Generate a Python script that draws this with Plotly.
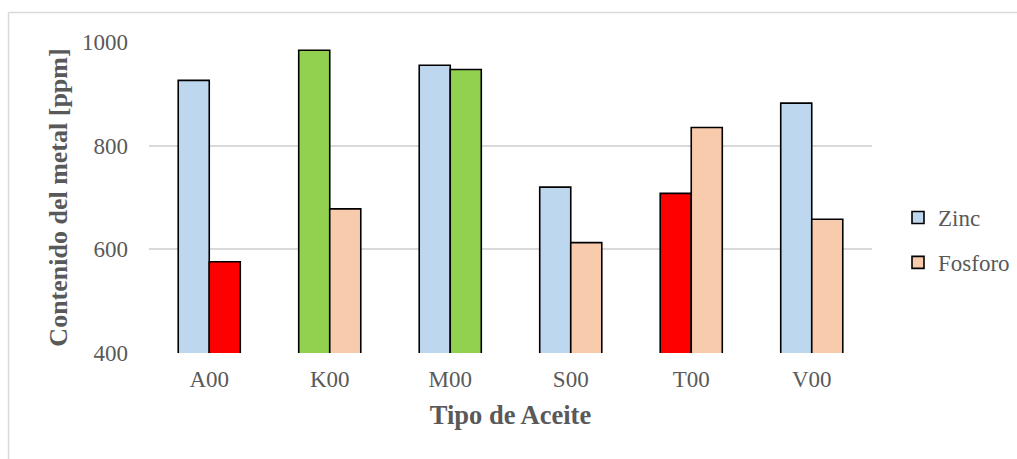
import plotly.graph_objects as go

# Oil types and metal content (ppm)
categories = ["A00", "K00", "M00", "S00", "T00", "V00"]
zinc = [926, 984, 955, 720, 708, 882]
fosforo = [576, 678, 947, 613, 835, 658]

# Per-bar highlight colours
zinc_colors = ["#BDD7EE", "#92D050", "#BDD7EE", "#BDD7EE", "#FF0000", "#BDD7EE"]
fosforo_colors = ["#FF0000", "#F8CBAD", "#92D050", "#F8CBAD", "#F8CBAD", "#F8CBAD"]

FONT = "Liberation Serif, Times New Roman, serif"
GRAY = "#595959"
OUTLINE = dict(color="black", width=1.6)

fig = go.Figure()
fig.add_trace(go.Bar(
    x=categories, y=zinc, name="Zinc", offsetgroup="zinc", showlegend=False,
    marker=dict(color=zinc_colors, line=OUTLINE),
))
fig.add_trace(go.Bar(
    x=categories, y=fosforo, name="Fosforo", offsetgroup="fosforo", showlegend=False,
    marker=dict(color=fosforo_colors, line=OUTLINE),
))
# Legend entries with the base series colours
fig.add_trace(go.Bar(
    x=[categories[0]], y=[None], name="Zinc", offsetgroup="zinc", legendgroup="zinc",
    marker=dict(color="#BDD7EE", line=OUTLINE),
))
fig.add_trace(go.Bar(
    x=[categories[0]], y=[None], name="Fosforo", offsetgroup="fosforo", legendgroup="fosforo",
    marker=dict(color="#F8CBAD", line=OUTLINE),
))

L, R, T, B = 149, 145, 42, 106
W, H = 1017, 459
pw, ph = W - L - R, H - T - B

def px_x(p):
    return (p - L) / pw

def px_y(p):
    return (H - B - p) / ph

fig.update_layout(
    width=W, height=H, autosize=False,
    margin=dict(l=L, r=R, t=T, b=B, autoexpand=False),
    paper_bgcolor="white", plot_bgcolor="white",
    barmode="group", bargap=0.485, bargroupgap=0,
    font=dict(family=FONT, color=GRAY, size=23),
    xaxis=dict(
        showgrid=False, zeroline=False, showline=False, ticks="",
        ticklabelstandoff=10,
        tickfont=dict(size=23, color=GRAY),
        title=dict(text="<b>Tipo de Aceite</b>", font=dict(size=26.5, color=GRAY), standoff=14),
    ),
    yaxis=dict(
        range=[400, 1000], tickvals=[400, 600, 800, 1000],
        showgrid=True, gridcolor="#D9D9D9", gridwidth=1.5,
        zeroline=False, showline=False, ticks="",
        ticklabelstandoff=20,
        tickfont=dict(size=23, color=GRAY),
        title=dict(text="<b>Contenido del metal [ppm]</b>", font=dict(size=26, color=GRAY), standoff=6),
    ),
    legend=dict(
        x=px_x(898), y=px_y(240), xanchor="left", yanchor="middle",
        font=dict(size=23, color=GRAY), bgcolor="rgba(0,0,0,0)",
        tracegroupgap=12, itemwidth=30,
    ),
    shapes=[
        dict(type="line", xref="paper", yref="paper",
             x0=px_x(8.5), x1=px_x(W + 5), y0=px_y(12.5), y1=px_y(12.5),
             line=dict(color="#D9D9D9", width=1.5)),
        dict(type="line", xref="paper", yref="paper",
             x0=px_x(8.5), x1=px_x(8.5), y0=px_y(12.5), y1=px_y(H + 5),
             line=dict(color="#D9D9D9", width=1.5)),
    ],
)

fig.write_html("out.html", config={"responsive": False})
